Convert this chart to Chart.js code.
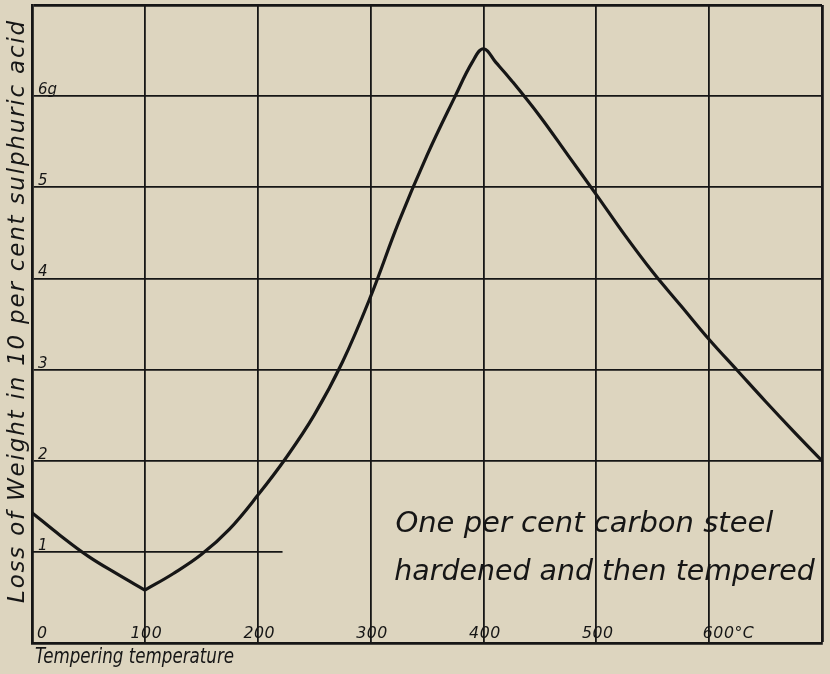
<!DOCTYPE html>
<html>
<head>
<meta charset="utf-8">
<script src="https://cdn.jsdelivr.net/npm/chart.js@4.4.0/dist/chart.umd.min.js"></script>
<style>
  html, body { margin:0; padding:0; background:#ddd5bf; }
  #wrap { position:relative; width:830px; height:674px; }
</style>
</head>
<body>
<div id="wrap"><canvas id="chart"></canvas></div>
<script>
// tempering temperature (deg C) and loss of weight (g)
const tempC = [0, 25, 50, 75, 100, 125, 150, 175, 200, 225, 250, 275, 300, 325, 350, 375, 390, 400, 411, 425, 450, 475, 500, 525, 550, 575, 600, 625, 650, 675, 700];
const lossG = [1.43, 1.18, 0.95, 0.76, 0.58, 0.76, 0.97, 1.25, 1.62, 2.03, 2.5, 3.08, 3.8, 4.62, 5.35, 6.0, 6.37, 6.52, 6.37, 6.17, 5.78, 5.35, 4.92, 4.48, 4.07, 3.7, 3.33, 2.99, 2.65, 2.32, 2.0];
const kinkAt = 100;   // sharp corner in the curve

// short rule at 1 g (only drawn as far as ~220 C on the plate)
const ruleX = [0, 222];
const ruleY = [1, 1];

const xTicks = [0, 100, 200, 300, 400, 500, 600, 700];
const xTickLabels = ['0', '100', '200', '300', '400', '500', '600°C', ''];
const yTicks = [0, 1, 2, 3, 4, 5, 6, 7];
const yTickLabels = ['', '1', '2', '3', '4', '5', '6g', ''];

const xTitle = 'Tempering temperature';
const yTitle = 'Loss of Weight in 10 per cent sulphuric acid';
const noteLines = ['One per cent carbon steel', 'hardened and then tempered'];

const INK = '#161616';
const HAND = "'DejaVu Sans'";

function pts(xs, ys) { return xs.map(function(x, i) { return { x: x, y: ys[i] }; }); }
var allPts = pts(tempC, lossG);
var k = tempC.indexOf(kinkAt);

// narrow lettering: squeeze horizontally, optional letter spacing
function letter(c, text, x, y, size, sx, spacing) {
  c.save();
  c.translate(x, y);
  c.scale(sx, 1);
  c.font = 'italic ' + size + 'px ' + HAND;
  c.letterSpacing = (spacing || 0) + 'px';
  c.fillText(text, 0, 0);
  c.restore();
}

// tick labels sit inside the frame on this plate, so draw them here
const plateText = {
  id: 'plateText',
  afterDatasetsDraw: function(chart) {
    var c = chart.ctx, xs = chart.scales.x, ys = chart.scales.y, a = chart.chartArea;
    c.save();
    c.fillStyle = INK;
    c.textAlign = 'left';
    c.textBaseline = 'alphabetic';
    yTicks.forEach(function(v, i) {
      var t = yTickLabels[i];
      if (!t) return;
      letter(c, t, a.left + 6, ys.getPixelForValue(v) - 2, 15, 1, 0);
    });
    xTicks.forEach(function(v, i) {
      var t = xTickLabels[i];
      if (!t) return;
      c.font = 'italic 15px ' + HAND;
      var w = c.measureText(t.replace('°C', '')).width;
      var px = xs.getPixelForValue(v);
      var x0 = v === 0 ? a.left + 5 : px - w / 2 + (v === 600 ? 8 : 0);
      letter(c, t, x0, a.bottom - 5, 15, 1.05, 0.5);
    });
    // axis titles
    letter(c, xTitle, a.left + 3, a.bottom + 20, 22, 0.76, 0);
    c.save();
    c.translate(24, 311);
    c.rotate(-Math.PI / 2);
    c.textAlign = 'center';
    letter(c, yTitle, 0, 0, 23, 1, 1.8);
    c.restore();
    // caption
    letter(c, noteLines[0], xs.getPixelForValue(322), ys.getPixelForValue(1.22), 29, 1, 0);
    letter(c, noteLines[1], xs.getPixelForValue(321), ys.getPixelForValue(0.69), 29, 0.98, 0);
    c.restore();
  }
};

function gridWidth(ctx) {
  var v = ctx.tick ? ctx.tick.value : null;
  return (v === 7 || v === 700) ? 2.8 : 1.8;
}

new Chart(document.getElementById('chart'), {
  type: 'line',
  data: {
    datasets: [
      { data: allPts.slice(0, k + 1), borderColor: INK, borderWidth: 3.2, pointRadius: 0, tension: 0.4, fill: false },
      { data: allPts.slice(k), borderColor: INK, borderWidth: 3.2, pointRadius: 0, tension: 0.4, fill: false },
      { data: pts(ruleX, ruleY), borderColor: INK, borderWidth: 1.8, pointRadius: 0, tension: 0, fill: false }
    ]
  },
  options: {
    responsive: true,
    maintainAspectRatio: false,
    animation: false,
    layout: { padding: { left: 32, right: 8, top: 5, bottom: 31 } },
    plugins: { legend: { display: false }, tooltip: { enabled: false } },
    scales: {
      x: {
        type: 'linear', min: 0, max: 700,
        afterBuildTicks: function(s) { s.ticks = xTicks.map(function(v) { return { value: v }; }); },
        ticks: { display: false },
        grid: { color: INK, lineWidth: gridWidth, drawTicks: false },
        border: { color: INK, width: 2.8 }
      },
      y: {
        type: 'linear', min: 0, max: 7,
        afterBuildTicks: function(s) { s.ticks = yTicks.map(function(v) { return { value: v }; }); },
        ticks: { display: false },
        grid: {
          color: function(ctx) { return ctx.tick && ctx.tick.value === 1 ? 'rgba(0,0,0,0)' : INK; },
          lineWidth: gridWidth, drawTicks: false
        },
        border: { color: INK, width: 2.8 }
      }
    }
  },
  plugins: [plateText]
});
</script>
</body>
</html>
